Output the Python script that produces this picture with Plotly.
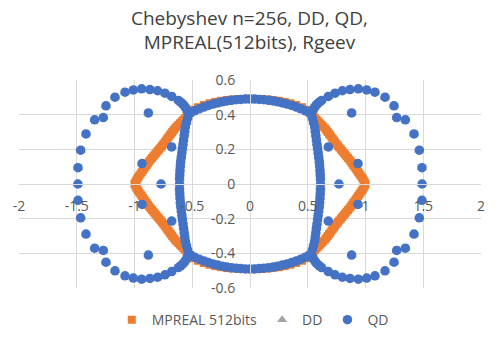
import plotly.graph_objects as go

# ---------------- data ----------------
# MPREAL 512bits (orange): wedge-shaped side pieces (dense band)
mp_wedge_x = [
    0.52, 0.535, 0.549, 0.563, 0.577, 0.592, 0.607, 0.621, 0.636, 0.651, 0.662, 0.673, 0.684, 0.695, 0.706, 0.717, 0.728, 0.739, 0.750, 0.762, 0.774,
    0.787, 0.799, 0.811, 0.824, 0.836, 0.849, 0.861, 0.873, 0.884, 0.894, 0.905, 0.915, 0.926, 0.936, 0.946, 0.957, 0.967, 0.977, 0.985, 0.993,
    1.0,
    0.52, 0.535, 0.549, 0.563, 0.577, 0.592, 0.607, 0.621, 0.636, 0.651, 0.662, 0.673, 0.684, 0.695, 0.706, 0.717, 0.728, 0.739, 0.750, 0.762, 0.774,
    0.787, 0.799, 0.811, 0.824, 0.836, 0.849, 0.861, 0.873, 0.884, 0.894, 0.905, 0.915, 0.926, 0.936, 0.946, 0.957, 0.967, 0.977, 0.985, 0.993,
    -0.52, -0.535, -0.549, -0.563, -0.577, -0.592, -0.607, -0.621, -0.636, -0.651, -0.662, -0.673, -0.684, -0.695, -0.706, -0.717, -0.728, -0.739, -0.750, -0.762, -0.774,
    -0.787, -0.799, -0.811, -0.824, -0.836, -0.849, -0.861, -0.873, -0.884, -0.894, -0.905, -0.915, -0.926, -0.936, -0.946, -0.957, -0.967, -0.977, -0.985, -0.993,
    -1.0,
    -0.52, -0.535, -0.549, -0.563, -0.577, -0.592, -0.607, -0.621, -0.636, -0.651, -0.662, -0.673, -0.684, -0.695, -0.706, -0.717, -0.728, -0.739, -0.750, -0.762, -0.774,
    -0.787, -0.799, -0.811, -0.824, -0.836, -0.849, -0.861, -0.873, -0.884, -0.894, -0.905, -0.915, -0.926, -0.936, -0.946, -0.957, -0.967, -0.977, -0.985, -0.993,
]
mp_wedge_y = [
    0.41, 0.40, 0.39, 0.38, 0.37, 0.36, 0.35, 0.34, 0.33, 0.32, 0.31, 0.30, 0.29, 0.28, 0.27, 0.26, 0.25, 0.24, 0.23, 0.22, 0.21,
    0.20, 0.19, 0.18, 0.17, 0.16, 0.15, 0.14, 0.13, 0.12, 0.11, 0.10, 0.09, 0.08, 0.07, 0.06, 0.05, 0.04, 0.03, 0.02, 0.01,
    0.0,
    -0.41, -0.40, -0.39, -0.38, -0.37, -0.36, -0.35, -0.34, -0.33, -0.32, -0.31, -0.30, -0.29, -0.28, -0.27, -0.26, -0.25, -0.24, -0.23, -0.22, -0.21,
    -0.20, -0.19, -0.18, -0.17, -0.16, -0.15, -0.14, -0.13, -0.12, -0.11, -0.10, -0.09, -0.08, -0.07, -0.06, -0.05, -0.04, -0.03, -0.02, -0.01,
    0.41, 0.40, 0.39, 0.38, 0.37, 0.36, 0.35, 0.34, 0.33, 0.32, 0.31, 0.30, 0.29, 0.28, 0.27, 0.26, 0.25, 0.24, 0.23, 0.22, 0.21,
    0.20, 0.19, 0.18, 0.17, 0.16, 0.15, 0.14, 0.13, 0.12, 0.11, 0.10, 0.09, 0.08, 0.07, 0.06, 0.05, 0.04, 0.03, 0.02, 0.01,
    0.0,
    -0.41, -0.40, -0.39, -0.38, -0.37, -0.36, -0.35, -0.34, -0.33, -0.32, -0.31, -0.30, -0.29, -0.28, -0.27, -0.26, -0.25, -0.24, -0.23, -0.22, -0.21,
    -0.20, -0.19, -0.18, -0.17, -0.16, -0.15, -0.14, -0.13, -0.12, -0.11, -0.10, -0.09, -0.08, -0.07, -0.06, -0.05, -0.04, -0.03, -0.02, -0.01,
]
# MPREAL 512bits (orange): upper / lower arcs (mostly hidden under QD)
mp_arc_x = [
    0.0, 0.05, 0.10, 0.15, 0.20, 0.25, 0.30, 0.35, 0.40, 0.45, 0.49,
    -0.05, -0.10, -0.15, -0.20, -0.25, -0.30, -0.35, -0.40, -0.45, -0.49,
    0.0, 0.05, 0.10, 0.15, 0.20, 0.25, 0.30, 0.35, 0.40, 0.45, 0.49,
    -0.05, -0.10, -0.15, -0.20, -0.25, -0.30, -0.35, -0.40, -0.45, -0.49,
]
mp_arc_y = [
    0.492, 0.491, 0.490, 0.488, 0.485, 0.480, 0.474, 0.466, 0.456, 0.443, 0.428,
    0.491, 0.490, 0.488, 0.485, 0.480, 0.474, 0.466, 0.456, 0.443, 0.428,
    -0.492, -0.491, -0.490, -0.488, -0.485, -0.480, -0.474, -0.466, -0.456, -0.443, -0.428,
    -0.491, -0.490, -0.488, -0.485, -0.480, -0.474, -0.466, -0.456, -0.443, -0.428,
]
mp_x = mp_arc_x + mp_wedge_x
mp_y = mp_arc_y + mp_wedge_y

# QD (blue): dense inner closed curve
qd_inner_x = [
    0.0,
    0.04, 0.08, 0.12, 0.16, 0.20, 0.24, 0.28, 0.32, 0.36, 0.40, 0.44, 0.48, 0.51, 0.53, 0.54, 0.55, 0.56, 0.565, 0.57, 0.575, 0.58, 0.585, 0.59, 0.595, 0.60, 0.603, 0.606, 0.608, 0.61,
    0.61,
    0.61, 0.608, 0.606, 0.603, 0.60, 0.595, 0.59, 0.585, 0.58, 0.575, 0.57, 0.565, 0.56, 0.55, 0.54, 0.53, 0.51, 0.48, 0.44, 0.40, 0.36, 0.32, 0.28, 0.24, 0.20, 0.16, 0.12, 0.08, 0.04,
    0.0,
    -0.04, -0.08, -0.12, -0.16, -0.20, -0.24, -0.28, -0.32, -0.36, -0.40, -0.44, -0.48, -0.51, -0.53, -0.54, -0.55, -0.56, -0.565, -0.57, -0.575, -0.58, -0.585, -0.59, -0.595, -0.60, -0.603, -0.606, -0.608, -0.61,
    -0.61,
    -0.61, -0.608, -0.606, -0.603, -0.60, -0.595, -0.59, -0.585, -0.58, -0.575, -0.57, -0.565, -0.56, -0.55, -0.54, -0.53, -0.51, -0.48, -0.44, -0.40, -0.36, -0.32, -0.28, -0.24, -0.20, -0.16, -0.12, -0.08, -0.04,
]
qd_inner_y = [
    0.49,
    0.490, 0.488, 0.486, 0.483, 0.479, 0.474, 0.468, 0.461, 0.453, 0.444, 0.434, 0.422, 0.413, 0.405, 0.38, 0.355, 0.33, 0.305, 0.28, 0.255, 0.23, 0.205, 0.18, 0.155, 0.13, 0.105, 0.08, 0.055, 0.03,
    0.0,
    -0.03, -0.055, -0.08, -0.105, -0.13, -0.155, -0.18, -0.205, -0.23, -0.255, -0.28, -0.305, -0.33, -0.355, -0.38, -0.405, -0.413, -0.422, -0.434, -0.444, -0.453, -0.461, -0.468, -0.474, -0.479, -0.483, -0.486, -0.488, -0.490,
    -0.49,
    -0.490, -0.488, -0.486, -0.483, -0.479, -0.474, -0.468, -0.461, -0.453, -0.444, -0.434, -0.422, -0.413, -0.405, -0.38, -0.355, -0.33, -0.305, -0.28, -0.255, -0.23, -0.205, -0.18, -0.155, -0.13, -0.105, -0.08, -0.055, -0.03,
    0.0,
    0.03, 0.055, 0.08, 0.105, 0.13, 0.155, 0.18, 0.205, 0.23, 0.255, 0.28, 0.305, 0.33, 0.355, 0.38, 0.405, 0.413, 0.422, 0.434, 0.444, 0.453, 0.461, 0.468, 0.474, 0.479, 0.483, 0.486, 0.488, 0.490,
]

# QD (blue): outer dotted loops
qd_outer_x = [
    0.545, 0.558, 0.571, 0.585, 0.60, 0.62, 0.678, 0.736, 0.80, 0.866, 0.938, 1.01, 1.082, 1.169, 1.247, 1.27, 1.345, 1.42, 1.466, 1.489,
    1.49,
    0.545, 0.558, 0.571, 0.585, 0.60, 0.62, 0.678, 0.736, 0.80, 0.866, 0.938, 1.01, 1.082, 1.169, 1.247, 1.27, 1.345, 1.42, 1.466, 1.489,
    -0.545, -0.558, -0.571, -0.585, -0.60, -0.62, -0.678, -0.736, -0.80, -0.866, -0.938, -1.01, -1.082, -1.169, -1.247, -1.27, -1.345, -1.42, -1.466, -1.489,
    -1.49,
    -0.545, -0.558, -0.571, -0.585, -0.60, -0.62, -0.678, -0.736, -0.80, -0.866, -0.938, -1.01, -1.082, -1.169, -1.247, -1.27, -1.345, -1.42, -1.466, -1.489,
]
qd_outer_y = [
    0.425, 0.44, 0.453, 0.463, 0.472, 0.482, 0.505, 0.524, 0.538, 0.545, 0.549, 0.543, 0.53, 0.501, 0.451, 0.383, 0.37, 0.289, 0.195, 0.094,
    0.0,
    -0.425, -0.44, -0.453, -0.463, -0.472, -0.482, -0.505, -0.524, -0.538, -0.545, -0.549, -0.543, -0.53, -0.501, -0.451, -0.383, -0.37, -0.289, -0.195, -0.094,
    0.425, 0.44, 0.453, 0.463, 0.472, 0.482, 0.505, 0.524, 0.538, 0.545, 0.549, 0.543, 0.53, 0.501, 0.451, 0.383, 0.37, 0.289, 0.195, 0.094,
    0.0,
    -0.425, -0.44, -0.453, -0.463, -0.472, -0.482, -0.505, -0.524, -0.538, -0.545, -0.549, -0.543, -0.53, -0.501, -0.451, -0.383, -0.37, -0.289, -0.195, -0.094,
]

# QD (blue): isolated interior points
qd_iso_x = [0.88, 0.678, 0.935, 0.77, 0.935, 0.678, 0.88, -0.88, -0.678, -0.935, -0.77, -0.935, -0.678, -0.88]
qd_iso_y = [0.41, 0.214, 0.118, 0.0, -0.118, -0.214, -0.41, 0.41, 0.214, 0.118, 0.0, -0.118, -0.214, -0.41]

qd_x = qd_inner_x + qd_outer_x + qd_iso_x
qd_y = qd_inner_y + qd_outer_y + qd_iso_y

# DD (gray) coincides with QD in the picture (completely hidden beneath it)
dd_x = list(qd_x)
dd_y = list(qd_y)

x_ticks = [-2, -1.5, -1, -0.5, 0, 0.5, 1, 1.5, 2]
y_ticks = [-0.6, -0.4, -0.2, 0, 0.2, 0.4, 0.6]

# ---------------- figure ----------------
FONT = "Open Sans"
GRID = "#d9d9d9"
TXT = "#595959"
W, H = 499, 339

fig = go.Figure()
fig.add_trace(go.Scatter(
    x=mp_x, y=mp_y, mode="markers", name="MPREAL 512bits",
    marker=dict(symbol="square", size=8, color="#ED7D31", line=dict(width=0)),
))
fig.add_trace(go.Scatter(
    x=dd_x, y=dd_y, mode="markers", name="DD",
    marker=dict(symbol="triangle-up", size=9, color="#A5A5A5", line=dict(width=0)),
))
fig.add_trace(go.Scatter(
    x=qd_x, y=qd_y, mode="markers", name="QD",
    marker=dict(symbol="circle", size=9.5, color="#4472C4", line=dict(width=0)),
))

fig.update_layout(
    width=W, height=H,
    margin=dict(l=19, r=18, t=80, b=51, autoexpand=False),
    paper_bgcolor="white", plot_bgcolor="white",
    font=dict(family=FONT, size=14, color=TXT),
    title=dict(
        text="Chebyshev n=256, DD, QD,<br>MPREAL(512bits), Rgeev",
        x=0.5, xanchor="center", xref="container",
        y=1 - 24.5 / H, yanchor="middle", yref="container",
        font=dict(family=FONT, size=19, color="#404040"),
    ),
    showlegend=True,
    legend=dict(
        orientation="h", x=0.506, xanchor="center", y=-0.154, yanchor="middle",
        font=dict(family=FONT, size=14, color=TXT),
        bgcolor="rgba(0,0,0,0)",
    ),
    hovermode=False,
)
fig.update_xaxes(
    range=[-2, 2], tickvals=x_ticks, ticktext=[f"{v:g}" for v in x_ticks],
    showgrid=True, gridcolor=GRID, gridwidth=1,
    zeroline=False, showline=True, linecolor=GRID, linewidth=1,
    anchor="free", position=0.5, automargin=False,
    ticks="", ticklabelstandoff=9,
    tickfont=dict(family=FONT, size=14, color=TXT),
    fixedrange=True,
)
fig.update_yaxes(
    range=[-0.6, 0.6], tickvals=y_ticks, ticktext=[f"{v:g}" for v in y_ticks],
    showgrid=True, gridcolor=GRID, gridwidth=1,
    zeroline=False, showline=True, linecolor=GRID, linewidth=1,
    anchor="free", position=0.5, automargin=False,
    ticks="", ticklabelstandoff=12,
    tickfont=dict(family=FONT, size=14, color=TXT),
    fixedrange=True,
)

# remove the default 8px page margin so the 499x339 figure fills the window exactly
fig.write_html(
    "out.html",
    config={"displayModeBar": False},
    post_script="document.body.style.margin='0px';",
)
